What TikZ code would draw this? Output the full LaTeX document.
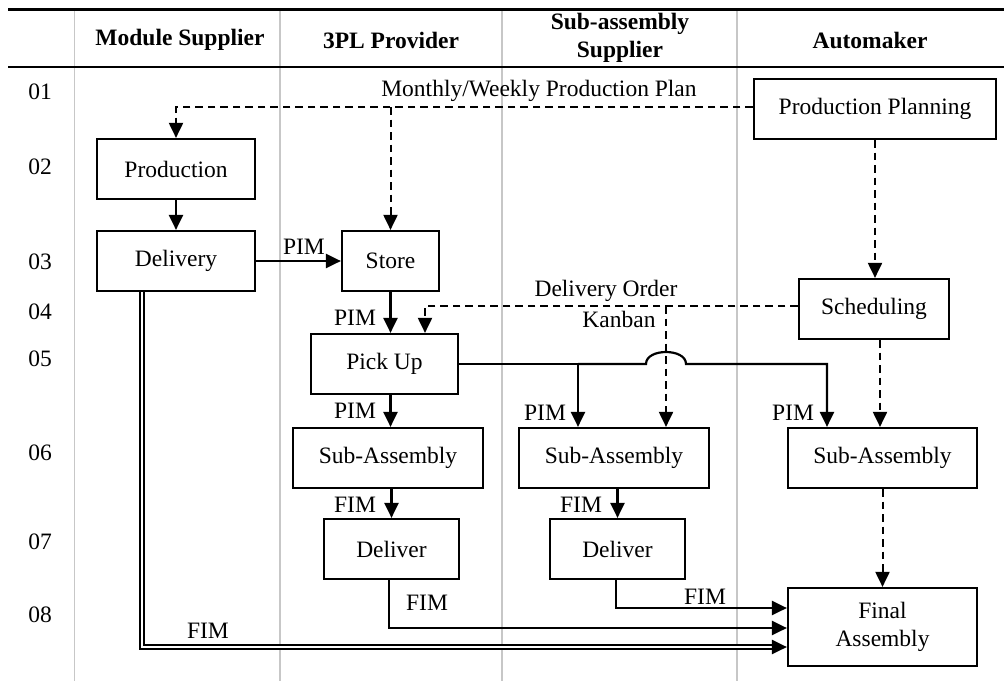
\documentclass[tikz,border=0pt]{standalone}
\usepackage{fontspec}
\setmainfont{Liberation Serif}
\usetikzlibrary{arrows.meta}
\begin{document}
\begin{tikzpicture}[x=1pt,y=-1pt,
  every node/.style={font=\fontsize{23.5}{28}\selectfont},
  box/.style={draw, line width=2.2pt, minimum height=60pt, inner sep=0pt, align=center},
  lbl/.style={inner sep=0pt},
  hdr/.style={font=\fontsize{23.5}{28}\selectfont\bfseries, align=center, inner sep=0pt},
  sol/.style={line width=2.2pt, -{Triangle[length=15pt,width=14pt]}},
  das/.style={sol, line width=2pt, dash pattern=on 7.5pt off 5pt},
  dbl/.style={line width=1.7pt, double=white, double distance=2pt},
  lane/.style={draw=black!22, line width=1.6pt},
  rule/.style={line width=2.5pt}
]
\useasboundingbox (0,0) rectangle (1004,681);
% lanes and rules
\draw[lane] (74.5,9.5) -- (74.5,681);
\draw[lane] (280,9.5) -- (280,681);
\draw[lane] (502,9.5) -- (502,681);
\draw[lane] (737,9.5) -- (737,681);
\draw[rule] (8,9.5) -- (1004,9.5);
\draw[rule] (8,67) -- (1004,67);
% headers
\node[hdr] (h1) at (180,40) {Module Supplier};
\node[hdr] (h2) at (391,40) {3PL Provider};
\node[hdr] (h3) at (620,38) {Sub-assembly\\Supplier};
\node[hdr] (h4) at (870,40) {Automaker};
% row labels
\node[lbl] (r1) at (40,92) {01};
\node[lbl] (r2) at (40,167) {02};
\node[lbl] (r3) at (40,262) {03};
\node[lbl] (r4) at (40,312) {04};
\node[lbl] (r5) at (40,359) {05};
\node[lbl] (r6) at (40,453) {06};
\node[lbl] (r7) at (40,542) {07};
\node[lbl] (r8) at (40,615) {08};
% boxes
\node[box, minimum width=242pt] (pp) at (875,109) {Production Planning};
\node[box, minimum width=158pt] (prod) at (176,169) {Production};
\node[box, minimum width=158pt] (deliv) at (176,261) {Delivery};
\node[box, minimum width=97pt] (store) at (390.5,261) {Store};
\node[box, minimum width=150pt] (sched) at (874,309) {Scheduling};
\node[box, minimum width=147pt] (pick) at (384.5,364) {Pick Up};
\node[box, minimum width=190pt] (sa1) at (388,458) {Sub-Assembly};
\node[box, minimum width=190pt] (sa2) at (614,458) {Sub-Assembly};
\node[box, minimum width=189pt] (sa3) at (882.5,458) {Sub-Assembly};
\node[box, minimum width=135pt] (del1) at (391.5,549) {Deliver};
\node[box, minimum width=135pt] (del2) at (617.5,549) {Deliver};
\node[box, minimum width=189pt, minimum height=78pt] (fa) at (882.5,627) {Final\\Assembly};
% monthly plan
\coordinate (mw) at ([yshift=2pt]pp.west);
\draw[das] (mw) -| (prod.north);
\draw[das] (store.north |- mw) -- (store.north);
\node[lbl] (mwl) at (539,91) {Monthly/Weekly Production Plan};
% material flow top
\draw[sol] (prod.south) -- (deliv.north);
\draw[sol] (deliv.east) -- (store.west);
\node[lbl] (l1) at (304,247) {PIM};
\draw[das] (pp.south) -- (pp.south |- sched.north);
% delivery order / kanban
\coordinate (doR) at ([yshift=3pt]sched.west);
\coordinate (pkT) at ([xshift=40.5pt]pick.north);
\coordinate (sa2k) at ([xshift=52pt]sa2.north);
\draw[das] (doR) -| (pkT);
\draw[das] (doR -| sa2k) -- (sa2k);
\node[lbl] (dol) at (606,291) {Delivery Order};
\node[lbl] (kbl) at (619,319) {Kanban};
% store -> pick
\draw[sol] (store.south) -- (store.south |- pick.north);
\node[lbl] (l2) at (355,318) {PIM};
% pick -> sub-assemblies
\coordinate (sa2p) at ([xshift=-36pt]sa2.north);
\coordinate (sa3p) at ([xshift=-55.5pt]sa3.north);
\draw[sol] (pick.east) -| (sa2p);
\draw[sol] (pick.east -| sa2p) -- (646,364) .. controls (646,348) and (686,348) .. (686,364) -| (sa3p);
\draw[sol] (store.south |- pick.south) -- (store.south |- sa1.north);
\node[lbl] (l3) at (355,411) {PIM};
\node[lbl] (l4) at (545,413) {PIM};
\node[lbl] (l5) at (793,413) {PIM};
% scheduling -> automaker sub-assembly
\coordinate (sk) at ([xshift=6pt]sched.south);
\draw[das] (sk) -- (sk |- sa3.north);
% sub-assembly -> deliver
\draw[sol] (del1.north |- sa1.south) -- (del1.north);
\node[lbl] (l6) at (355,505) {FIM};
\draw[sol] (del2.north |- sa2.south) -- (del2.north);
\node[lbl] (l7) at (581,505) {FIM};
\draw[das] (fa.north |- sa3.south) -- (fa.north);
% to final assembly
\draw[sol] ([xshift=-2.5pt]del1.south) |- ([yshift=-1pt]fa.west);
\node[lbl] (l8) at (427,603) {FIM};
\draw[sol] ([xshift=-1.5pt]del2.south) |- ([yshift=19pt]fa.west);
\node[lbl] (l9) at (705,597) {FIM};
\coordinate (dv) at ([xshift=-34pt]deliv.south);
\coordinate (faD) at ([yshift=-20pt]fa.west);
\draw[dbl, shorten >=10pt] (dv) |- (faD);
\draw[sol] ([xshift=-15pt]faD) -- (faD);
\node[lbl] (l10) at (208,631) {FIM};
\end{tikzpicture}
\end{document}
